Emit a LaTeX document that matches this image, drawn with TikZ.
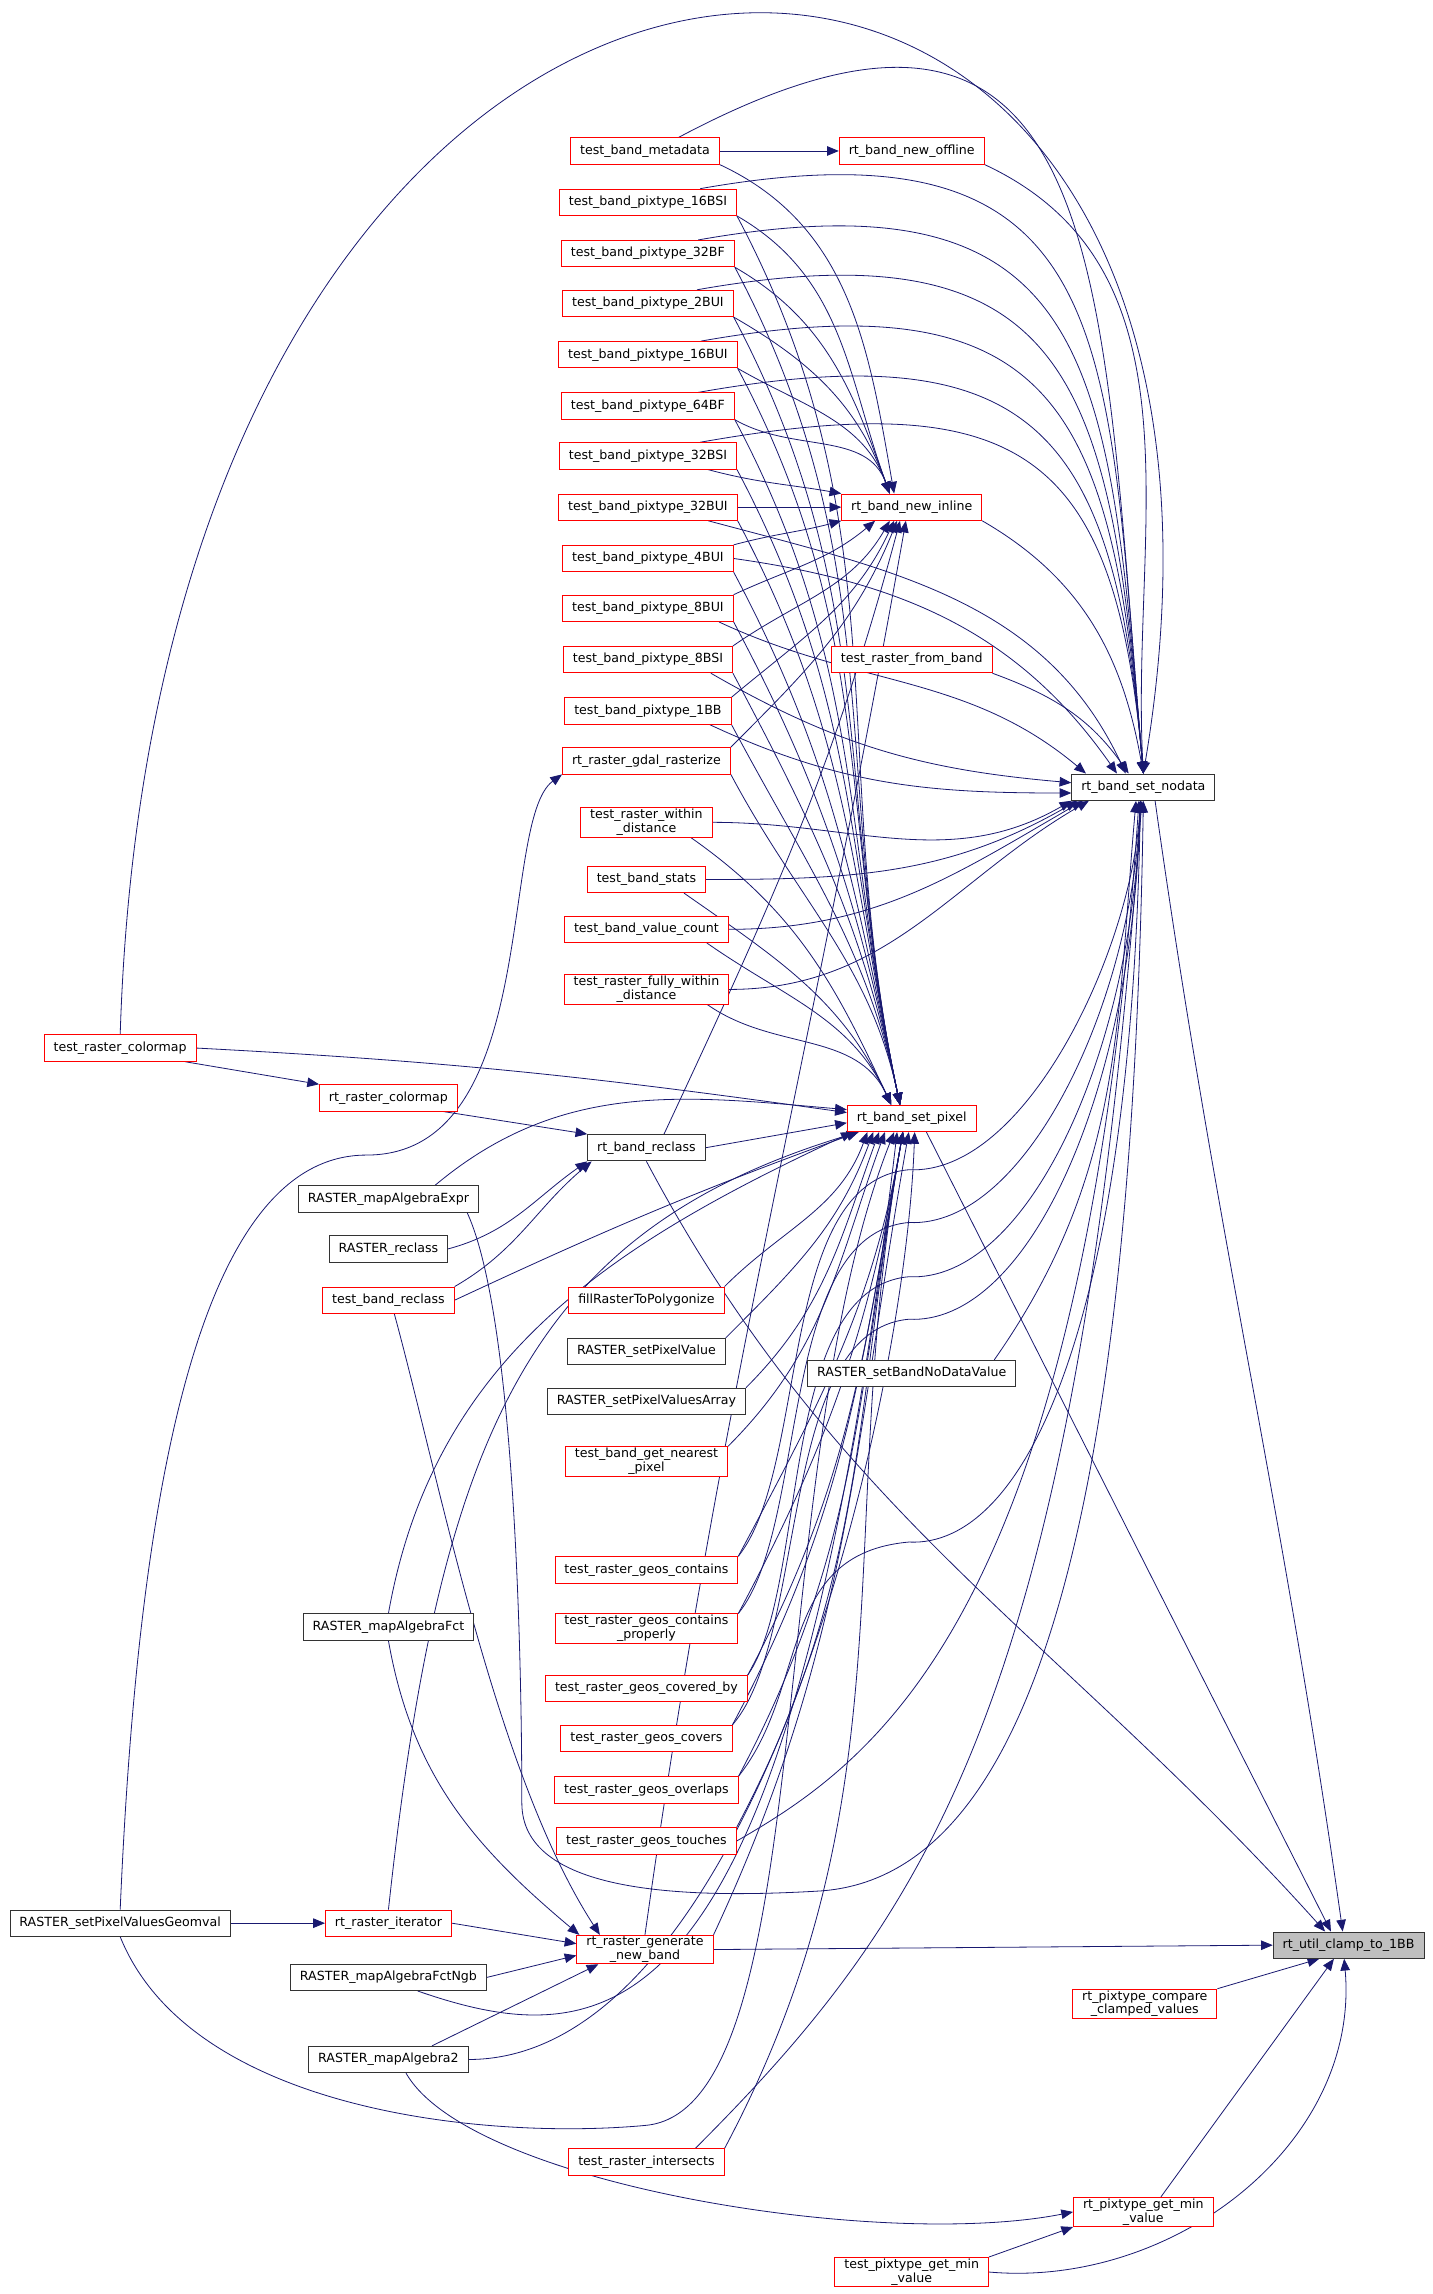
\documentclass[tikz,border=0pt]{standalone}
\usepackage{fontspec}
\setmainfont{DejaVu Sans}
\usetikzlibrary{arrows.meta,positioning}
\definecolor{edgeblue}{HTML}{191970}
\definecolor{boxgray}{HTML}{BFBFBF}
\pgfdeclarelayer{bg}
\pgfsetlayers{bg,main}

\begin{document}
\begin{tikzpicture}[x=1pt,y=1pt,
  fn/.style={draw=red,fill=white,font=\fontsize{8.6}{9.4}\selectfont,inner xsep=6.5pt,
    inner ysep=1pt,minimum height=18pt,line width=0.6pt,align=center},
  fnb/.style={fn,draw=black!80},
  call/.style={draw=edgeblue,line width=0.55pt,-{Triangle[length=8pt,width=6.5pt]}}]
\useasboundingbox (0,0) rectangle (977,-1565);

% right part
\node[fnb,fill=boxgray] (clamp) at (920,-1327) {rt\_util\_clamp\_to\_1BB};
\node[fnb] (nodata) at (780,-537) {rt\_band\_set\_nodata};
\node[fn] (compare) at (781,-1367) {rt\_pixtype\_compare\\\_clamped\_values};
\node[fn] (getmin) at (780,-1509) {rt\_pixtype\_get\_min\\\_value};
\node[fn] (tgetmin) at (622,-1550) {test\_pixtype\_get\_min\\\_value};
\node[fn] (newoff) at (622,-103) {rt\_band\_new\_offline};
\node[fn] (newin) at (622,-346) {rt\_band\_new\_inline};
\node[fn] (fromband) at (622,-450) {test\_raster\_from\_band};
\node[fn] (setpix) at (622,-763) {rt\_band\_set\_pixel};
\node[fnb] (setbnd) at (622,-937) {RASTER\_setBandNoDataValue};

% middle column
\node[fn] (meta) at (440,-103) {test\_band\_metadata};
\foreach \n/\t/\y in {p16bsi/16BSI/138,p32bf/32BF/173,p2bui/2BUI/207,p16bui/16BUI/242,
    p64bf/64BF/277,p32bsi/32BSI/311,p32bui/32BUI/346,p4bui/4BUI/381,p8bui/8BUI/415,
    p8bsi/8BSI/450,p1bb/1BB/485}
  \node[fn] (\n) at (442,-\y) {test\_band\_pixtype\_\t};
\node[fn] (gdal) at (441,-519) {rt\_raster\_gdal\_rasterize};
\node[fn] (within) at (441,-561) {test\_raster\_within\\\_distance};
\node[fn] (stats) at (441,-600) {test\_band\_stats};
\node[fn] (vcount) at (441,-634) {test\_band\_value\_count};
\node[fn] (fully) at (441,-675) {test\_raster\_fully\_within\\\_distance};
\node[fnb] (reclass) at (441,-783) {rt\_band\_reclass};
\node[fn] (fill) at (441,-887) {fillRasterToPolygonize};
\node[fnb] (setpv) at (441,-922) {RASTER\_setPixelValue};
\node[fnb] (setpva) at (441,-956) {RASTER\_setPixelValuesArray};
\node[fn] (nearest) at (441,-997) {test\_band\_get\_nearest\\\_pixel};
\node[fn] (gcont) at (441,-1071) {test\_raster\_geos\_contains};
\node[fn] (gcontp) at (441,-1111) {test\_raster\_geos\_contains\\\_properly};
\node[fn] (gcovby) at (441,-1152) {test\_raster\_geos\_covered\_by};
\node[fn] (gcov) at (441,-1186) {test\_raster\_geos\_covers};
\node[fn] (gover) at (441,-1221) {test\_raster\_geos\_overlaps};
\node[fn] (gtouch) at (441,-1256) {test\_raster\_geos\_touches};
\node[fn] (gennew) at (440,-1330) {rt\_raster\_generate\\\_new\_band};
\node[fn] (inter) at (441,-1475) {test\_raster\_intersects};

% left columns
\node[fn] (rcmap) at (265,-749) {rt\_raster\_colormap};
\node[fnb] (mae) at (265,-818) {RASTER\_mapAlgebraExpr};
\node[fnb] (rreclass) at (265,-852) {RASTER\_reclass};
\node[fn] (tbreclass) at (265,-887) {test\_band\_reclass};
\node[fnb] (maf) at (265,-1110) {RASTER\_mapAlgebraFct};
\node[fn] (riter) at (265,-1312) {rt\_raster\_iterator};
\node[fnb] (mafngb) at (265,-1349) {RASTER\_mapAlgebraFctNgb};
\node[fnb] (ma2) at (265,-1405) {RASTER\_mapAlgebra2};
\node[fn] (tcmap) at (82,-715) {test\_raster\_colormap};
\node[fnb] (spvg) at (82,-1312) {RASTER\_setPixelValuesGeomval};

\begin{pgfonlayer}{bg}
% callers of rt_util_clamp_to_1BB
\draw[call] ([xshift=8pt]nodata.south) to[out=-82,in=98] ([xshift=-4pt]clamp.north);
\draw[call] ([xshift=10pt]setpix.south) -- ([xshift=-12pt]clamp.north);
\draw[call] (reclass.south) to[out=-62,in=132] ([xshift=-16pt]clamp.north);
\draw[call] (gennew.east) -- (clamp.west);
\draw[call] (compare.north east) -- ([xshift=-20pt]clamp.south);
\draw[call] ([xshift=12pt]getmin.north) -- ([xshift=-10pt]clamp.south);
\draw[call] (tgetmin.east) to[out=-5,in=-85] ([xshift=-3pt]clamp.south);
\draw[call] (tgetmin.north east) -- (getmin.south west);

% rt_band_new_offline, rt_band_new_inline
\draw[call] (meta) -- (newoff);
\draw[call] ([xshift=-28pt]meta.north east) to[out=28,in=95,looseness=1.6] (nodata.north);
\draw[call] (meta.south east) to[out=-25,in=100] ([xshift=-12pt]newin.north);
\draw[call] (newoff.south east) to[out=-25,in=93] (nodata.north);
\draw[call] (newin.south east) to[out=-30,in=100] (nodata.north);
\draw[call] (fromband.south east) to[out=-20,in=125] ([xshift=-10pt]nodata.north);
\foreach \n in {p16bsi,p32bf,p2bui,p16bui,p64bf}{
  \draw[call] ([xshift=-25pt]\n.north east) to[out=10,in=95,looseness=1.5] (nodata.north);
  \draw[call] (\n.south east) to[out=-30,in=110] ([xshift=-15pt]newin.north);
}
\draw[call] ([xshift=-25pt]p32bsi.north east) to[out=10,in=95,looseness=1.5] (nodata.north);
\draw[call] ([xshift=-20pt]p32bsi.south east) to[out=-15,in=170] (newin.north west);
\draw[call] (p32bui) -- (newin);
\draw[call] (p4bui.north east) to[out=15,in=-165] (newin.south west);
\draw[call] (p8bui.north east) to[out=25,in=-140] ([xshift=-25pt]newin.south);
\draw[call] (p8bsi.north east) to[out=35,in=-120] ([xshift=-15pt]newin.south);
\draw[call] (p1bb.north east) to[out=40,in=-115] ([xshift=-12pt]newin.south);
\draw[call] (gdal.north east) to[out=45,in=-112] ([xshift=-10pt]newin.south);
\draw[call] ([xshift=-20pt]p32bui.south east) to[out=-15,in=115] ([xshift=-12pt]nodata.north);
\draw[call] (p4bui.east) to[out=-8,in=125] ([xshift=-18pt]nodata.north);
\draw[call] ([xshift=-10pt]p8bui.south east) to[out=-25,in=140] ([xshift=10pt]nodata.north west);
\draw[call] ([xshift=-15pt]p8bsi.south east) to[out=-30,in=175] ([yshift=3pt]nodata.west);
\draw[call] ([xshift=-15pt]p1bb.south east) to[out=-25,in=180] ([yshift=-4pt]nodata.west);
\foreach \n in {p16bsi,p32bf,p2bui,p16bui,p64bf,p32bsi,p32bui,p4bui,p8bui,p8bsi,p1bb,gdal}
  \draw[call] (\n.south east) to[out=-62,in=102] ([xshift=-8pt]setpix.north);
\foreach \n/\s in {within/0,stats/4,vcount/8,fully/12}{
  \draw[call] (\n.east) to[out=0,in=-150] ([xshift=\s pt]nodata.south west);
  \draw[call] ([xshift=-15pt]\n.south east) to[out=-35,in=115] ([xshift=-14pt]setpix.north);
}

% rt_band_set_pixel and rt_band_reclass
\draw[call] (tcmap.north) .. controls (110,190) and (900,190) .. (nodata.north);
\draw[call] (tcmap.east) to[out=-3,in=172] ([yshift=4pt]setpix.west);
\draw[call] ([xshift=-8pt]tcmap.south east) -- (rcmap.north west);
\draw[call] ([xshift=-10pt]rcmap.south east) -- (reclass.north west);
\draw[call] (reclass.east) -- ([yshift=-3pt]setpix.west);
\draw[call] ([xshift=12pt]reclass.north) to[out=65,in=-105] ([xshift=-8pt]newin.south);
\draw[call] ([xshift=-30pt]mae.north east) to[out=40,in=175] ([yshift=6pt]setpix.west);
\draw[call] ([xshift=-8pt]mae.south east) .. controls (352,-900) and (356,-1140) .. (356,-1230)
  .. controls (356,-1290) and (460,-1296) .. (560,-1290)
  .. controls (700,-1280) and (772,-1050) .. (nodata.south);
\draw[call] (rreclass.east) to[out=15,in=-145] (reclass.south west);
\draw[call] (tbreclass.north east) to[out=30,in=-140] ([xshift=3pt]reclass.south west);
\draw[call] (tbreclass.east) to[out=25,in=-160] ([xshift=8pt]setpix.south west);
\draw[call] ([xshift=4pt]tbreclass.south) .. controls (300,-1010) and (338,-1210) .. ([xshift=16pt]gennew.north west);
\draw[call] (maf.north) to[out=80,in=-155] ([xshift=4pt]setpix.south west);
\draw[call] (maf.south) to[out=-80,in=140] ([xshift=2pt]gennew.north west);
\foreach \n/\s in {fill/14,setpv/18,setpva/22,nearest/26}
  \draw[call] (\n.north east) to[out=45,in=-110] ([xshift=\s pt]setpix.south west);
\draw[call] ([xshift=-15pt]setbnd.north east) to[out=55,in=-95] ([xshift=-5pt]nodata.south);
\foreach \n in {gcont,gcontp,gcovby,gcov,gover,gtouch,inter}
  \draw[call] (\n.north east) to[out=62,in=-100] ([xshift=-6pt]setpix.south);
\foreach \n/\y/\h in {gcont/1071/798,gcontp/1111/834,gcovby/1152/871,gcov/1186/900,gover/1221/1052}
  \draw[call] (\n.north east) .. controls (552,-\y+70) and (530,-\h-8) .. (620,-\h)
    .. controls (700,-\h-4) and (772,-\h+150) .. ([xshift=-2pt]nodata.south);
\draw[call] (gtouch.east) .. controls (600,-1200) and (740,-1100) .. ([xshift=-3pt]nodata.south);
\draw[call] ([xshift=-20pt]inter.north east) .. controls (640,-1300) and (735,-1150) .. ([xshift=-1pt]nodata.south);

% rt_raster_generate_new_band and its callers
\draw[call] (gennew.north east) to[out=65,in=-100] ([xshift=-2pt]setpix.south);
\draw[call] (gennew.north) to[out=82,in=-100] ([xshift=-4pt]newin.south);
\draw[call] (riter.east) -- ([yshift=4pt]gennew.west);
\draw[call] (riter.north) .. controls (300,-980) and (360,-840) .. ([xshift=8pt]setpix.south west);
\draw[call] (mafngb.east) -- ([yshift=-4pt]gennew.west);
\draw[call] ([xshift=20pt]mafngb.south) .. controls (420,-1405) and (540,-1390) .. ([xshift=-10pt]setpix.south);
\draw[call] ([xshift=-25pt]ma2.north east) -- ([xshift=15pt]gennew.south west);
\draw[call] (ma2.east) to[out=0,in=-92,looseness=0.7] ([xshift=2pt]setpix.south);
\draw[call] ([xshift=12pt]ma2.south) .. controls (320,-1490) and (600,-1535) .. (getmin.west);
\draw[call] (spvg) -- (riter);
\draw[call] (spvg.north) .. controls (95,-1000) and (140,-788) .. (250,-788)
  .. controls (370,-788) and (340,-560) .. (gdal.south west);
\draw[call] (spvg.south) .. controls (130,-1440) and (330,-1460) .. (440,-1450)
  .. controls (560,-1440) and (520,-1000) .. ([xshift=-12pt]setpix.south);
\end{pgfonlayer}
\end{tikzpicture}
\end{document}
